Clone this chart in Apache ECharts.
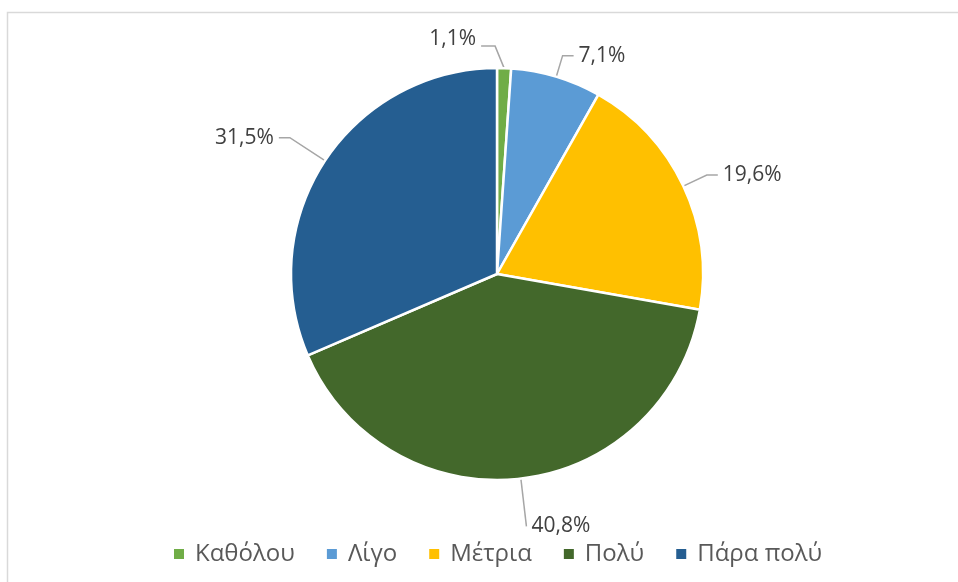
<!DOCTYPE html>
<html>
<head>
<meta charset="utf-8">
<script src="https://cdn.jsdelivr.net/npm/echarts@6/dist/echarts.min.js"></script>
<style>
  html, body { margin: 0; padding: 0; background: #fff; }
  #chart { width: 958px; height: 582px; }
</style>
</head>
<body>
<div id="chart"></div>
<script>
const categories = ['Καθόλου', 'Λίγο', 'Μέτρια', 'Πολύ', 'Πάρα πολύ'];
const values = [1.1, 7.1, 19.6, 40.8, 31.5];
const colors = ['#70AD47', '#5B9BD5', '#FFC000', '#43682B', '#255E91'];
// leader line lengths per slice [radial part, horizontal part]
const leaderLens = [[22, 14], [22, 11], [26, 11], [48, 0], [42, 11]];

const chart = echarts.init(document.getElementById('chart'), null, { renderer: 'canvas' });

const option = {
  animation: false,
  color: colors,
  graphic: [{
    type: 'rect',
    shape: { x: 7.5, y: 12.5, width: 1000, height: 1000 },
    style: { fill: 'none', stroke: '#D9D9D9', lineWidth: 1.5 },
    silent: true
  }],
  legend: {
    top: 537,
    left: 167,
    itemWidth: 12,
    itemHeight: 12,
    itemGap: 30,
    icon: 'rect',
    textStyle: {
      fontFamily: 'Open Sans',
      fontSize: 24,
      color: '#595959',
      padding: [0, 0, 0, 5]
    },
    data: categories
  },
  series: [{
    type: 'pie',
    center: [497, 274],
    radius: 206,
    startAngle: 90,
    clockwise: true,
    avoidLabelOverlap: false,
    itemStyle: { borderColor: '#fff', borderWidth: 2.5 },
    label: {
      show: true,
      position: 'outside',
      formatter: p => String(p.value).replace('.', ',') + '%',
      fontFamily: 'Open Sans',
      fontSize: 21,
      color: '#404040',
      padding: [0, 0, 15, 0]
    },
    labelLine: {
      show: true,
      lineStyle: { color: '#A6A6A6', width: 1.5 }
    },
    labelLayout: function (p) {
      if (p.dataIndex !== 0) return {};
      // smallest slice: Excel puts its label to the left of the leader
      const p0 = p.labelLinePoints[0];
      const ly = p0[1] - 22;
      return {
        x: p0[0] - 28,
        y: ly - 7,
        align: 'right',
        verticalAlign: 'middle',
        labelLinePoints: [p0, [p0[0] - 9, ly], [p0[0] - 23, ly]]
      };
    },
    data: categories.map((name, i) => ({
      name,
      value: values[i],
      labelLine: { length: leaderLens[i][0], length2: leaderLens[i][1] }
    }))
  }]
};

chart.setOption(option);
</script>
</body>
</html>
